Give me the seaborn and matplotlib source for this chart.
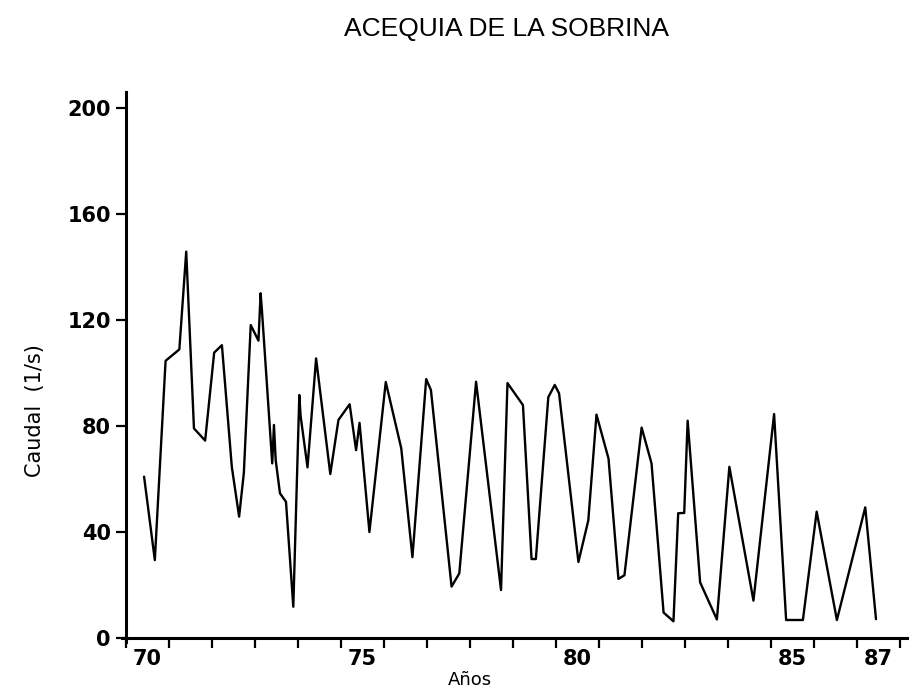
import numpy as np
import pandas as pd
import matplotlib
matplotlib.use("Agg")
import matplotlib.pyplot as plt
import seaborn as sns

# Caudal mensual aproximado (anio decimal, l/s)
anios = [70.42, 70.67, 70.92, 71.24, 71.40, 71.58, 71.84, 72.05, 72.23, 72.46,
         72.63, 72.74, 72.90, 73.08, 73.13, 73.16, 73.40, 73.44, 73.48, 73.58,
         73.72, 73.89, 74.03, 74.06, 74.22, 74.42, 74.75, 74.94, 75.20, 75.35,
         75.43, 75.66, 76.04, 76.40, 76.66, 76.98, 77.09, 77.57, 77.75, 78.14,
         78.72, 78.87, 79.23, 79.43, 79.53, 79.82, 79.97, 80.07, 80.52, 80.75,
         80.94, 81.22, 81.45, 81.59, 81.99, 82.22, 82.50, 82.73, 82.84, 82.98,
         83.06, 83.10, 83.35, 83.74, 84.03, 84.59, 85.07, 85.35, 85.74, 86.06,
         86.53, 87.19, 87.44]
caudal = [60.9, 29.4, 104.6, 108.9, 145.8, 79.1, 74.5, 107.7, 110.5, 64.6,
          45.8, 62.3, 118.1, 112.2, 130.1, 123.8, 65.9, 80.4, 67.2, 54.6,
          51.4, 11.8, 91.7, 83.8, 64.4, 105.5, 61.9, 82.3, 88.2, 70.9,
          81.2, 40.0, 96.6, 71.6, 30.5, 97.7, 93.6, 19.4, 24.4, 96.7,
          18.1, 96.2, 87.9, 29.8, 29.8, 90.9, 95.5, 92.3, 28.7, 44.4,
          84.3, 67.7, 22.3, 23.7, 79.4, 65.9, 9.6, 6.3, 47.1, 47.2,
          82.0, 73.6, 21.0, 7.0, 64.6, 14.1, 84.5, 6.8, 6.8, 47.7,
          6.8, 49.3, 7.1]

y_ticks = [0, 40, 80, 120, 160, 200]
x_year_ticks = list(range(70, 89))
x_labels = ["70", "75", "80", "85", "87"]
x_label_pos = [70.5, 75.5, 80.5, 85.5, 87.5]

df = pd.DataFrame({"anio": anios, "caudal": caudal})

sns.set_style("ticks")
plt.rcParams["font.family"] = ["DejaVu Sans"]
plt.rcParams["text.color"] = "black"
plt.rcParams["axes.labelcolor"] = "black"
plt.rcParams["xtick.color"] = "black"
plt.rcParams["ytick.color"] = "black"
plt.rcParams["axes.edgecolor"] = "black"

fig = plt.figure(figsize=(9.09, 6.93), dpi=100)
ax = fig.add_axes([0.1339, 0.0736, 0.8634, 0.7935])

sns.lineplot(data=df, x="anio", y="caudal", ax=ax, color="black",
             linewidth=1.7, estimator=None)

ax.set_xlim(69.9, 88.15)
ax.set_ylim(-1.5, 206)

sns.despine(ax=ax)
ax.spines["left"].set_position(("data", 70))
ax.spines["bottom"].set_position(("data", 0))
for s in ["left", "bottom"]:
    ax.spines[s].set_linewidth(2.2)

ax.set_yticks(y_ticks)
ax.set_yticklabels([str(v) for v in y_ticks], fontsize=15, fontweight="bold")
ax.set_xticks(x_year_ticks)
ax.set_xticklabels([])
ax.set_xticks(x_label_pos, x_labels, minor=True, fontsize=15,
              fontweight="bold")
ax.tick_params(axis="both", which="major", direction="out", length=7,
               width=1.6, pad=4)
ax.tick_params(axis="x", which="minor", length=0, pad=8)

ax.set_xlabel("Años", fontsize=13)
ax.xaxis.set_label_coords(0.4438, -0.069)
ax.xaxis.label.set_va("center")
ax.set_ylabel("Caudal  (1/s)", fontsize=15)
ax.yaxis.set_label_coords(-0.1105, 0.42)
ax.yaxis.label.set_va("center")

fig.text(506 / 909, 1 - 29 / 693, "ACEQUIA DE LA SOBRINA", ha="center",
         va="center", fontsize=19, family=["Liberation Sans", "DejaVu Sans"])

fig.savefig("out.png", dpi=100)
